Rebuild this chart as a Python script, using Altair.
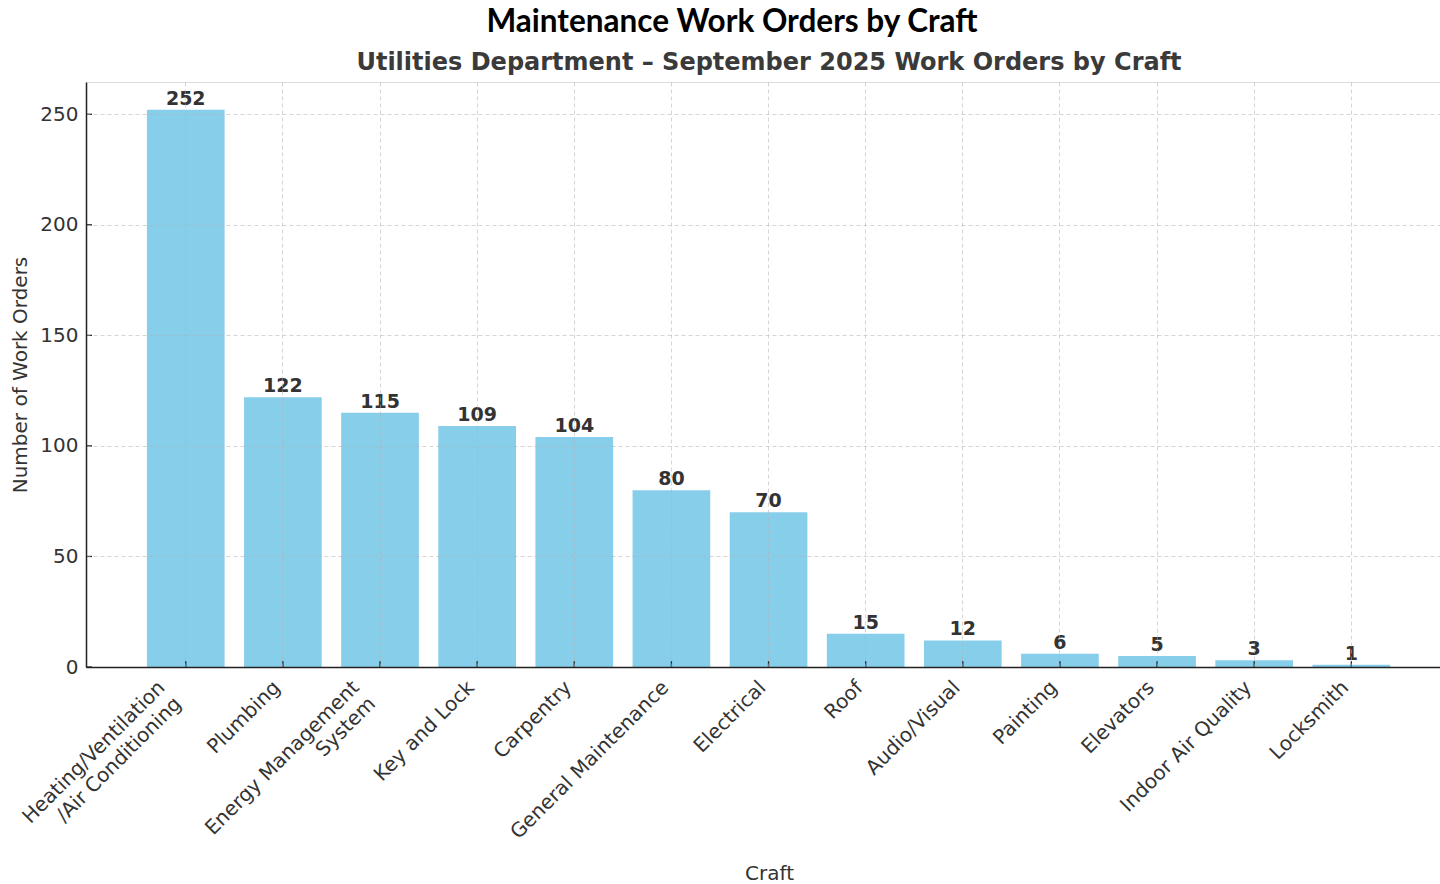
import altair as alt
import pandas as pd

crafts = [
    "Heating/Ventilation\n/Air Conditioning",
    "Plumbing",
    "Energy Management\nSystem",
    "Key and Lock",
    "Carpentry",
    "General Maintenance",
    "Electrical",
    "Roof",
    "Audio/Visual",
    "Painting",
    "Elevators",
    "Indoor Air Quality",
    "Locksmith",
]
counts = [252, 122, 115, 109, 104, 80, 70, 15, 12, 6, 5, 3, 1]
y_ticks = [0, 50, 100, 150, 200, 250]

main_title = "Maintenance Work Orders by Craft"
sub_title = "Utilities Department \u2013 September 2025 Work Orders by Craft"
x_title = "Craft"
y_title = "Number of Work Orders"

df = pd.DataFrame({"craft": crafts, "count": counts})
tick_df = pd.DataFrame({"v": y_ticks})
title_df = pd.DataFrame({"t": [main_title]})
sub_df = pd.DataFrame({"t": [sub_title]})

FONT = "DejaVu Sans"
DARK = "#333333"

x_scale = alt.Scale(domain=crafts, paddingInner=0.2, paddingOuter=0.57, align=0.55)
y_scale = alt.Scale(domain=[0, 264.6], nice=False, zero=True)

x_axis = alt.Axis(
    title=x_title,
    labelAngle=-45,
    labelAlign="right",
    labelBaseline="top",
    labelExpr="split(datum.label, '\\n')",
    labelFont=FONT,
    labelFontSize=20,
    labelColor=DARK,
    labelPadding=10,
    labelOffset={
        "condition": {"test": "indexof(datum.value, '\\n') >= 0", "value": -31},
        "value": -13,
    },
    labelLineHeight=23,
    labelLimit=0,
    labelOverlap=False,
    ticks=False,
    domain=True,
    domainColor="#222222",
    domainWidth=1.5,
    grid=True,
    gridColor="#b0b0b0",
    gridOpacity=0.6,
    gridDash=[4, 3],
    gridWidth=0.9,
    titleFont=FONT,
    titleFontSize=20,
    titleFontWeight="normal",
    titleColor=DARK,
    titleX=683,
    titleY=206,
    titleBaseline="middle",
    zindex=1,
)
y_axis = alt.Axis(
    title=y_title,
    values=y_ticks,
    labelFont=FONT,
    labelFontSize=20,
    labelColor=DARK,
    labelPadding=8,
    ticks=False,
    domain=True,
    domainColor="#222222",
    domainWidth=1.5,
    grid=True,
    gridColor="#b0b0b0",
    gridOpacity=0.6,
    gridDash=[4, 3],
    gridWidth=0.9,
    titleFont=FONT,
    titleFontSize=20,
    titleFontWeight="normal",
    titleColor=DARK,
    titleX=-66,
    titleBaseline="middle",
    zindex=1,
)

base = alt.Chart(df)

bars = base.mark_bar(color="#87CEEB").encode(
    x=alt.X("craft:N", sort=None, scale=x_scale, axis=x_axis),
    y=alt.Y("count:Q", scale=y_scale, axis=y_axis),
)

labels = base.mark_text(
    font=FONT, fontSize=19, fontWeight="bold", color=DARK, baseline="bottom", dy=-1
).encode(
    x=alt.X("craft:N", sort=None, scale=x_scale),
    y=alt.Y("count:Q", scale=y_scale),
    text=alt.Text("count:Q"),
)

x_ticks = base.mark_rule(color="#222222", strokeWidth=1.3).encode(
    x=alt.X("craft:N", sort=None, scale=x_scale),
    y=alt.datum(0, scale=y_scale),
    y2=alt.datum(2.6),
)

y_tick_marks = alt.Chart(tick_df).mark_rule(color="#222222", strokeWidth=1.3).encode(
    y=alt.Y("v:Q", scale=y_scale),
    x=alt.value(0),
    x2=alt.value(6),
)

top_title = alt.Chart(title_df).mark_text(
    font="Lato", fontSize=31.5, fontWeight="bold", color="black", baseline="middle", align="center"
).encode(
    text="t:N",
    x=alt.value(646),
    y=alt.value(-59),
)

subtitle = alt.Chart(sub_df).mark_text(
    font=FONT, fontSize=24, fontWeight="bold", color="#3a3a3a", baseline="middle", align="center"
).encode(
    text="t:N",
    x=alt.value(683),
    y=alt.value(-19),
)

chart = alt.layer(bars, x_ticks, y_tick_marks, labels, top_title, subtitle).properties(
    width=1354,
    height=585,
    autosize=alt.AutoSizeParams(type="none"),
    padding={"left": 86, "top": 82, "right": 0, "bottom": 217},
).configure_view(stroke=None).configure(background="white")

chart.save("out.html", embed_options={"renderer": "svg", "actions": False})
